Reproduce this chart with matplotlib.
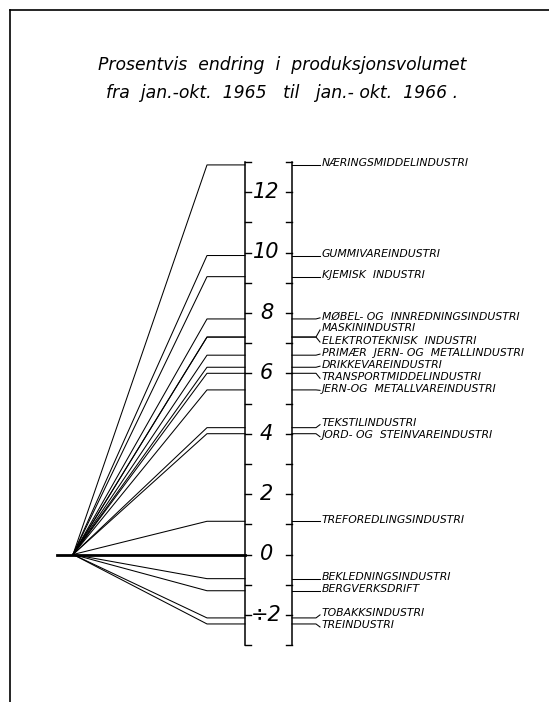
import matplotlib.pyplot as plt
from matplotlib.lines import Line2D

# prosentvis endring jan.-okt. 1965 til jan.-okt. 1966
industries = [
    "NÆRINGSMIDDELINDUSTRI",
    "GUMMIVAREINDUSTRI",
    "KJEMISK  INDUSTRI",
    "MØBEL- OG  INNREDNINGSINDUSTRI",
    "MASKININDUSTRI",
    "ELEKTROTEKNISK  INDUSTRI",
    "PRIMÆR  JERN- OG  METALLINDUSTRI",
    "DRIKKEVAREINDUSTRI",
    "TRANSPORTMIDDELINDUSTRI",
    "JERN-OG  METALLVAREINDUSTRI",
    "TEKSTILINDUSTRI",
    "JORD- OG  STEINVAREINDUSTRI",
    "TREFOREDLINGSINDUSTRI",
    "BEKLEDNINGSINDUSTRI",
    "BERGVERKSDRIFT",
    "TOBAKKSINDUSTRI",
    "TREINDUSTRI",
]
change = [12.9, 9.9, 9.2, 7.8, 7.2, 7.2, 6.6, 6.2, 6.0, 5.45, 4.2, 4.0, 1.1, -0.8, -1.2, -2.1, -2.3]

scale_min, scale_max = -3, 13
tick_labels = {12: "12", 10: "10", 8: "8", 6: "6", 4: "4", 2: "2", 0: "0", -2: "÷2"}

title = "Prosentvis  endring  i  produksjonsvolumet\nfra  jan.-okt.  1965   til   jan.- okt.  1966 ."


def spread_labels(vals, gap):
    # push labels apart so they don't overlap, keep clusters centred on their values
    clusters = []
    for v in vals:
        clusters.append([v])
        while len(clusters) > 1:
            a, b = clusters[-2], clusters[-1]
            ca, cb = sum(a) / len(a), sum(b) / len(b)
            low_a = ca - (len(a) - 1) * gap / 2
            high_b = cb + (len(b) - 1) * gap / 2
            if low_a - high_b < gap:
                clusters[-2:] = [a + b]
            else:
                break
    out = []
    for c in clusters:
        m = sum(c) / len(c)
        for i in range(len(c)):
            out.append(m + ((len(c) - 1) / 2 - i) * gap)
    return out


W, H = 549, 702
zero_px = 554.5   # from top
unit_px = 30.2

fig = plt.figure(figsize=(W / 100, H / 100), dpi=100)
ax = fig.add_axes([0, 0, 1, 1])
ax.set_xlim(0, W)
ax.set_ylim(-(H - zero_px) / unit_px, zero_px / unit_px)
ax.axis("off")

lw = 0.75
x_stub, x_origin, x_knee = 57, 73, 207
x_left, x_right = 245, 292
x_conn, x_text = 316, 322

# page frame
fig.add_artist(Line2D([10 / W, 10 / W], [0, 1 - 10 / H], color="black", lw=1.2))
fig.add_artist(Line2D([10 / W, 1], [1 - 10 / H, 1 - 10 / H], color="black", lw=1.2))

fig.text(0.514, 1 - 79 / H, title, ha="center", va="center", fontsize=12.4,
         style="italic", linespacing=1.75)

# double scale
for x, d in [(x_left, 6), (x_right, -6)]:
    ax.plot([x, x], [scale_min, scale_max], color="black", lw=1.1)
    for t in range(scale_min, scale_max + 1):
        ax.plot([x, x + d], [t, t], color="black", lw=1.0)
for t, s in tick_labels.items():
    ax.text((x_left + x_right) / 2 - 2, t, s, ha="center", va="center",
            fontsize=15, style="italic")

# fan
ax.plot([x_stub, x_left], [0, 0], color="black", lw=2.0)
for v in change:
    ax.plot([x_origin, x_knee, x_left], [0, v, v], color="black", lw=lw)

# labels on the right
label_y = spread_labels(change, 0.4)
for name, v, ly in zip(industries, change, label_y):
    ax.plot([x_right, x_conn, x_conn + 4], [v, v, ly], color="black", lw=lw)
    ax.text(x_text, ly + 0.05, name, ha="left", va="center", fontsize=7.8,
            style="italic")

fig.savefig("out.png", dpi=100)
